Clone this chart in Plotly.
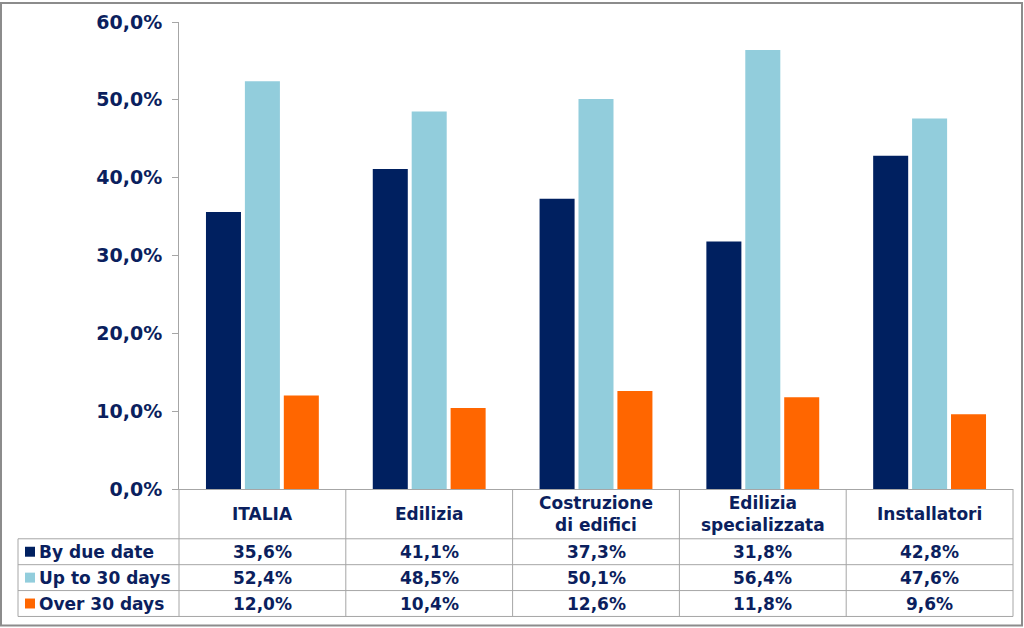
import plotly.graph_objects as go

categories = ["ITALIA", "Edilizia", "Costruzione di edifici", "Edilizia specializzata", "Installatori"]
header_labels = ["ITALIA", "Edilizia", "Costruzione<br>di edifici", "Edilizia<br>specializzata", "Installatori"]
series_names = ["By due date", "Up to 30 days", "Over 30 days"]
by_due_date = [0.356, 0.411, 0.373, 0.318, 0.428]
up_to_30 = [0.524, 0.485, 0.501, 0.564, 0.476]
over_30 = [0.120, 0.104, 0.126, 0.118, 0.096]
series_values = [by_due_date, up_to_30, over_30]
colors = ["#002060", "#92CDDC", "#FF6600"]
text_color = "#0B1F5E"
grid_col = "#A6A6A6"
font_family = "DejaVu Sans"

W, H = 1024, 628
L, R, T, B = 179, 11, 20, 139
PW, PH = W - L - R, H - T - B


def pxx(p):
    return (p - L) / PW


def pxy(p):
    return (H - B - p) / PH


fig = go.Figure()
for name, vals, col in zip(series_names, series_values, colors):
    fig.add_trace(go.Bar(x=categories, y=vals, name=name, marker=dict(color=col, line=dict(width=0))))

shapes = []
annotations = []

# table geometry (pixels)
table_left = 18
table_right = L + PW
row_tops = [H - B, 539, 565, 591, 617]
n = len(categories)
col_edges = [L + PW * i / n for i in range(n + 1)]

line = dict(color=grid_col, width=1)
for yp in row_tops[1:]:
    shapes.append(dict(type="line", xref="paper", yref="paper", x0=pxx(table_left), x1=pxx(table_right),
                       y0=pxy(yp), y1=pxy(yp), line=line))
for xp in col_edges:
    shapes.append(dict(type="line", xref="paper", yref="paper", x0=pxx(xp), x1=pxx(xp),
                       y0=pxy(row_tops[0]), y1=pxy(row_tops[-1]), line=line))
shapes.append(dict(type="line", xref="paper", yref="paper", x0=pxx(table_left), x1=pxx(table_left),
                   y0=pxy(row_tops[1]), y1=pxy(row_tops[-1]), line=line))

# outer frame
shapes.append(dict(type="rect", xref="paper", yref="paper", x0=pxx(1), x1=pxx(1022), y0=pxy(1), y1=pxy(626),
                   line=dict(color="#8C8C8C", width=2), fillcolor="rgba(0,0,0,0)", layer="below"))

FS = 17
for cat, lab in zip(categories, header_labels):
    annotations.append(dict(x=cat, xref="x", y=pxy((row_tops[0] + row_tops[1]) / 2), yref="paper",
                            text="<b>" + lab + "</b>", showarrow=False, yanchor="middle",
                            font=dict(family=font_family, size=FS, color=text_color)))

for r, (name, vals, col) in enumerate(zip(series_names, series_values, colors)):
    yc = (row_tops[r + 1] + row_tops[r + 2]) / 2
    shapes.append(dict(type="rect", xref="paper", yref="paper", x0=pxx(25), x1=pxx(35),
                       y0=pxy(yc - 5), y1=pxy(yc + 5), fillcolor=col, line=dict(width=0)))
    annotations.append(dict(x=pxx(37), xref="paper", y=pxy(yc), yref="paper", xanchor="left",
                            text="<b>" + name + "</b>", showarrow=False, yanchor="middle",
                            font=dict(family=font_family, size=FS, color=text_color)))
    for cat, v in zip(categories, vals):
        txt = f"{v * 100:.1f}%".replace(".", ",")
        annotations.append(dict(x=cat, xref="x", y=pxy(yc), yref="paper", text="<b>" + txt + "</b>",
                                showarrow=False, yanchor="middle",
                                font=dict(family=font_family, size=FS, color=text_color)))

fig.update_layout(
    width=W, height=H,
    margin=dict(l=L, r=R, t=T, b=B),
    paper_bgcolor="white", plot_bgcolor="white",
    barmode="group", bargap=0.3, bargroupgap=0.1,
    showlegend=False,
    separators=",.",
    shapes=shapes, annotations=annotations,
    xaxis=dict(showticklabels=False, showline=True, linecolor=grid_col, linewidth=1, ticks="",
               showgrid=False, zeroline=False, range=[-0.5, 4.5], fixedrange=True),
    yaxis=dict(range=[0, 0.6], dtick=0.1, tickformat=".1%", showline=True, linecolor=grid_col, linewidth=1,
               ticks="outside", ticklen=6, tickcolor=grid_col, showgrid=False, zeroline=False,
               ticklabelstandoff=6, fixedrange=True,
               tickfont=dict(family=font_family, size=19, color=text_color, weight="bold")),
)

fig.write_html("out.html", config={"displayModeBar": False},
               post_script="document.body.style.margin='0';document.body.style.overflow='hidden';")
